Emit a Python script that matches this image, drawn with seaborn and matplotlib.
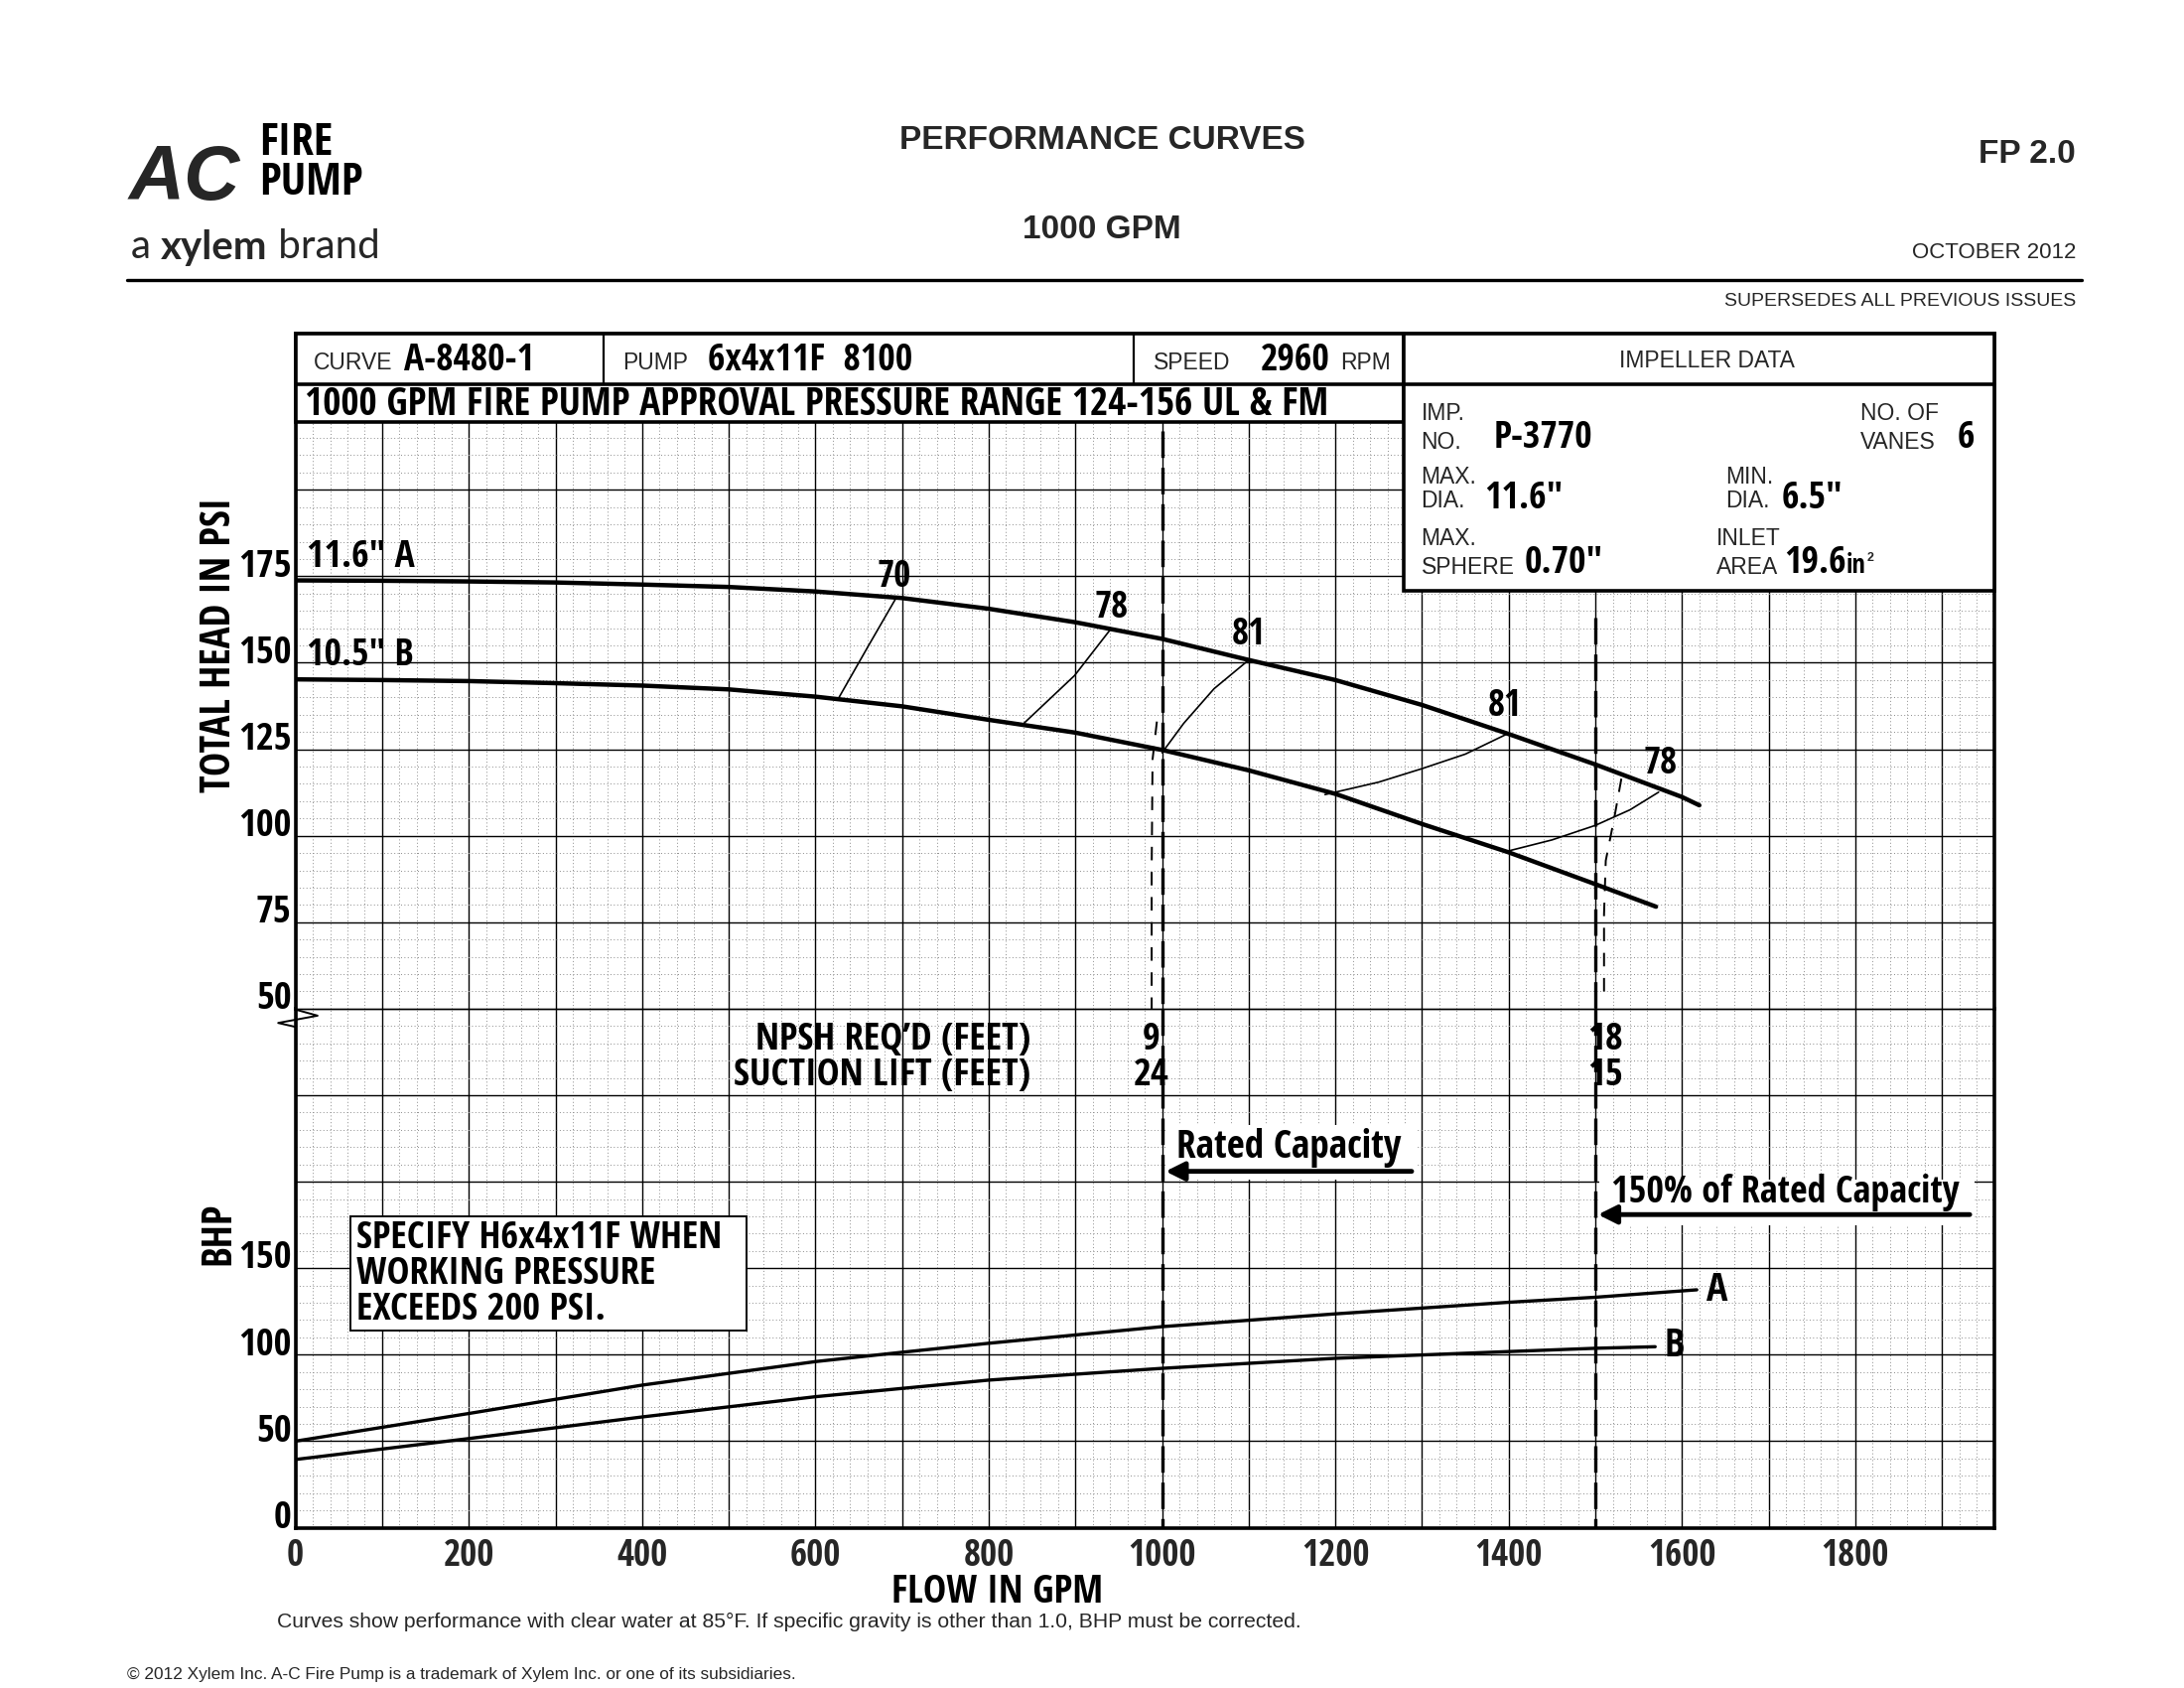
import matplotlib
matplotlib.use("Agg")
import numpy as np
import pandas as pd
import seaborn as sns
import matplotlib.pyplot as plt
from matplotlib import font_manager
from matplotlib.patches import Rectangle
from matplotlib.ticker import MultipleLocator, FuncFormatter
from matplotlib.transforms import ScaledTranslation

# head curves (psi) for the two impeller diameters
flow_head_a = [0, 100, 200, 300, 400, 500, 600, 700, 800, 900, 1000, 1100, 1200, 1300, 1400, 1500, 1600, 1620]
head_a = [173.8, 173.7, 173.5, 173.2, 172.6, 171.9, 170.6, 168.7, 165.6, 161.7, 156.9, 150.8, 145.0, 137.8, 129.4, 120.6, 111.2, 108.8]
flow_head_b = [0, 100, 200, 300, 400, 500, 600, 700, 800, 900, 1000, 1100, 1200, 1300, 1400, 1500, 1570]
head_b = [145.2, 145.0, 144.7, 144.1, 143.4, 142.3, 140.2, 137.4, 133.5, 129.8, 124.8, 118.9, 112.1, 103.4, 95.2, 86.0, 79.5]

# brake horsepower
flow_bhp_a = [0, 200, 400, 600, 700, 800, 1000, 1200, 1400, 1500, 1617]
bhp_a = [50.0, 66.0, 82.4, 96.0, 101.4, 106.6, 116.2, 123.6, 130.3, 133.2, 137.5]
flow_bhp_b = [0, 200, 400, 600, 800, 1000, 1200, 1400, 1500, 1569]
bhp_b = [39.4, 51.5, 64.0, 75.7, 85.3, 92.1, 97.9, 101.8, 103.7, 104.6]

# efficiency iso-lines (flow, head)
eff_lines = {
    "70": ([627, 660, 693], [139.9, 154.4, 168.7]),
    "78a": ([841, 899, 940], [132.6, 146.3, 159.5]),
    "81a": ([1000, 1025, 1060, 1100], [124.0, 132.5, 142.5, 150.8]),
    "81b": ([1188, 1250, 1300, 1350, 1398], [111.9, 115.5, 119.4, 123.6, 129.4]),
    "78b": ([1398, 1450, 1500, 1540, 1573], [95.5, 98.8, 103.0, 107.5, 112.6]),
}
eff_labels = ["70", "78", "81", "81", "78"]
eff_label_flow = [691, 942, 1100, 1395, 1575]
eff_label_head = [174.8, 165.8, 158.3, 137.6, 121.0]

# NPSH required curve segments
npsh1_flow = [994, 989, 988, 988]
npsh1_head = [133, 122, 90, 50]
npsh2_flow = [1530, 1522, 1512, 1510, 1510]
npsh2_head = [116.5, 105.4, 92.8, 77.3, 53]

rated_flows = [1000, 1500]
npsh_req = ["9", "18"]
suction_lift = ["24", "15"]

head_ticks = [50, 75, 100, 125, 150, 175]
bhp_ticks = [0, 50, 100, 150]
flow_ticks = [0, 200, 400, 600, 800, 1000, 1200, 1400, 1600, 1800]

sns.set_style("white")
plt.rcParams["font.family"] = ["Liberation Sans", "DejaVu Sans"]

fig = plt.figure(figsize=(22, 17), dpi=100)
renderer = fig.canvas.get_renderer()

# pick the narrowest bold face installed for the condensed lettering
names = {f.name for f in font_manager.fontManager.ttflist}
cands = [("Liberation Sans Narrow", "normal"), ("Roboto Condensed", "normal"),
         ("Open Sans Condensed", "normal"), ("DejaVu Sans Condensed", "normal"),
         ("DejaVu Sans", "condensed"), ("Roboto", "condensed"), ("Open Sans", "condensed"),
         ("Liberation Sans", "normal")]
probe = "SPECIFY H6x4x11F WHEN WORKING"


def width_of(fam, st):
    t = fig.text(0, 0, probe, fontsize=20, family=fam, fontstretch=st, fontweight="bold")
    w = t.get_window_extent(renderer=renderer).width
    t.remove()
    return w


w_ref = width_of("Liberation Sans", "normal")
best = ("Liberation Sans", "normal", w_ref)
for fam, st in cands:
    if fam in names:
        w = width_of(fam, st)
        if w < best[2]:
            best = (fam, st, w)
NARROW, STRETCH = best[0], best[1]
K = 0.855 * w_ref / best[2]


def nz(s):
    return s * K


NK = dict(family=NARROW, fontstretch=STRETCH, fontweight="bold", color="black")

L, W = 0.1353, 0.7777
ax_b = fig.add_axes([L, 0.0950, W, 0.3074])
ax_h = fig.add_axes([L, 0.4024, W, 0.3997])


def setup(ax, ymaj, ymin, ylim):
    ax.set_xlim(0, 1960)
    ax.set_ylim(*ylim)
    ax.xaxis.set_major_locator(MultipleLocator(100))
    ax.xaxis.set_minor_locator(MultipleLocator(20))
    ax.yaxis.set_major_locator(MultipleLocator(ymaj))
    ax.yaxis.set_minor_locator(MultipleLocator(ymin))
    ax.grid(which="major", color="black", lw=1.0)
    ax.grid(which="minor", color="#8c8c8c", lw=0.7, ls=(0, (1, 2.5)))
    ax.tick_params(which="both", length=0)
    ax.set_axisbelow(True)
    ax.set_yticklabels([])
    for s in ax.spines.values():
        s.set_linewidth(2.6)
        s.set_color("black")


setup(ax_h, 25, 5, (50, 245))
setup(ax_b, 50, 10, (0, 300))
ax_h.spines["bottom"].set_visible(False)
ax_b.spines["top"].set_visible(False)
ax_h.set_xticklabels([])
ax_h.axhline(50, color="black", lw=1.0, clip_on=False)

ax_b.xaxis.set_major_formatter(FuncFormatter(lambda v, p: f"{int(v)}" if int(v) in flow_ticks else ""))
ax_b.tick_params(axis="x", pad=7, labelsize=nz(24))
for t in ax_b.get_xticklabels():
    t.set_fontfamily(NARROW)
    t.set_fontstretch(STRETCH)
    t.set_fontweight("bold")

off = ScaledTranslation(-3 / 72, 7 / 72, fig.dpi_scale_trans)
for v in head_ticks:
    ax_h.text(0, v, str(v), transform=ax_h.get_yaxis_transform() + off,
              ha="right", va="center", fontsize=nz(25), **NK)
for v in bhp_ticks:
    ax_b.text(0, v, str(v), transform=ax_b.get_yaxis_transform() + off,
              ha="right", va="center", fontsize=nz(25), **NK)

# break symbol at the 50 psi line
ax_b.plot([1, 25.5, -20, 0], [299.4, 296, 291.8, 289.5], color="black", lw=1.4, clip_on=False)

# curves
sns.lineplot(x=flow_head_a, y=head_a, ax=ax_h, color="black", lw=3.2, estimator=None, sort=False)
sns.lineplot(x=flow_head_b, y=head_b, ax=ax_h, color="black", lw=3.2, estimator=None, sort=False)
for q, h in eff_lines.values():
    sns.lineplot(x=q, y=h, ax=ax_h, color="black", lw=1.2, estimator=None, sort=False)
for q, h in [(npsh1_flow, npsh1_head), (npsh2_flow, npsh2_head)]:
    ax_h.plot(q, h, color="black", lw=1.4, dashes=(7, 6))
sns.lineplot(x=flow_bhp_a, y=bhp_a, ax=ax_b, color="black", lw=2.4, estimator=None, sort=False)
sns.lineplot(x=flow_bhp_b, y=bhp_b, ax=ax_b, color="black", lw=2.4, estimator=None, sort=False)

# rated capacity lines
ax_h.plot([rated_flows[0]] * 2, [217, 50], color="black", lw=2.4, dashes=(8, 3))
ax_h.plot([rated_flows[1]] * 2, [163, 50], color="black", lw=2.4, dashes=(8, 3))
for q in rated_flows:
    ax_b.plot([q, q], [300, 0], color="black", lw=2.4, dashes=(8, 3))

for s, q, h in zip(eff_labels, eff_label_flow, eff_label_head):
    ax_h.text(q, h, s, ha="center", va="center", fontsize=nz(24), **NK)
ax_h.text(13, 180.6, '11.6" A', ha="left", va="center", fontsize=nz(24.5), **NK)
ax_h.text(13, 152.2, '10.5" B', ha="left", va="center", fontsize=nz(24.5), **NK)

# header boxes
box_kw = dict(fc="white", ec="black", lw=2.6, zorder=3, clip_on=False)
ax_h.add_patch(Rectangle((0, 219.5), 1279, 25.5, **box_kw))
ax_h.add_patch(Rectangle((1279, 170.7), 681, 74.3, **box_kw))
ax_h.plot([0, 1960], [230.5, 230.5], color="black", lw=2.6, zorder=4, clip_on=False)
for q in [355, 967]:
    ax_h.plot([q, q], [230.5, 245], color="black", lw=1.6, zorder=4, clip_on=False)

small = dict(fontsize=16.5, va="center", ha="left", zorder=5)
big = dict(fontsize=nz(24.5), va="center", ha="left", zorder=5, **NK)
ax_h.text(21, 236.8, "CURVE", **small)
ax_h.text(125, 237.4, "A-8480-1", **big)
ax_h.text(377, 236.8, "PUMP", **small)
ax_h.text(476, 237.4, "6x4x11F  8100", **big)
ax_h.text(990, 236.8, "SPEED", **small)
ax_h.text(1114, 237.4, "2960", **big)
ax_h.text(1206, 236.8, "RPM", **small)
ax_h.text(1629, 237.2, "IMPELLER DATA", fontsize=16.5, va="center", ha="center", zorder=5)
ax_h.text(11, 224.6, "1000 GPM FIRE PUMP APPROVAL PRESSURE RANGE 124-156 UL & FM",
          fontsize=nz(25.5), va="center", ha="left", zorder=5, **NK)

imp = [
    (1299, 222.0, "IMP."), (1299, 213.8, "NO."), (1806, 222.0, "NO. OF"), (1806, 213.8, "VANES"),
    (1299, 203.7, "MAX."), (1299, 196.7, "DIA."), (1650, 203.7, "MIN."), (1650, 196.7, "DIA."),
    (1299, 185.8, "MAX."), (1299, 177.6, "SPHERE"), (1640, 185.8, "INLET"), (1640, 177.6, "AREA"),
]
for q, h, s in imp:
    ax_h.text(q, h, s, **small)
ax_h.text(1383, 215.0, "P-3770", **big)
ax_h.text(1918, 215.0, "6", **big)
ax_h.text(1372, 197.6, '11.6"', **big)
ax_h.text(1715, 197.6, '6.5"', **big)
ax_h.text(1418, 178.9, '0.70"', **big)
t_area = ax_h.text(1718, 178.9, "19.6", **big)
t_in = ax_h.annotate("in", xy=(1, 0.08), xycoords=t_area, ha="left", va="bottom", fontsize=nz(17),
                     zorder=5, **NK)
ax_h.annotate("2", xy=(1, 1.0), xycoords=t_in, xytext=(1, 0), textcoords="offset points",
              ha="left", va="top", fontsize=9, fontweight="bold", zorder=5)

# NPSH / suction lift table
ax_b.text(848, 282, "NPSH REQ\u2019D (FEET)", ha="right", va="center", fontsize=nz(25), **NK)
ax_b.text(848, 261.5, "SUCTION LIFT (FEET)", ha="right", va="center", fontsize=nz(25), **NK)
for q, a, b in zip([988, 1512], npsh_req, suction_lift):
    ax_b.text(q, 282, a, ha="center", va="center", fontsize=nz(25), **NK)
    ax_b.text(q, 261.5, b, ha="center", va="center", fontsize=nz(25), **NK)

# rated capacity callouts
ax_b.add_patch(Rectangle((1005, 201), 288, 32, fc="white", ec="none", zorder=3))
ax_b.text(1016, 219.5, "Rated Capacity", ha="left", va="center", fontsize=nz(25.5), zorder=4, **NK)
ax_b.annotate("", xy=(1004, 206), xytext=(1288, 206), zorder=4,
              arrowprops=dict(arrowstyle="-|>", lw=3.5, color="black", mutation_scale=28,
                              shrinkA=0, shrinkB=0))
ax_b.add_patch(Rectangle((1505, 175), 433, 26, fc="white", ec="none", zorder=3))
ax_b.text(1518, 193.5, "150% of Rated Capacity", ha="left", va="center", fontsize=nz(24.8), zorder=4, **NK)
ax_b.annotate("", xy=(1503, 181), xytext=(1932, 181), zorder=4,
              arrowprops=dict(arrowstyle="-|>", lw=3.5, color="black", mutation_scale=28,
                              shrinkA=0, shrinkB=0))

ax_b.add_patch(Rectangle((63, 114), 457, 66, fc="white", ec="black", lw=1.4, zorder=3))
for h, s in zip([167.5, 146.8, 126], ["SPECIFY H6x4x11F WHEN", "WORKING PRESSURE", "EXCEEDS 200 PSI."]):
    ax_b.text(70, h, s, ha="left", va="center", fontsize=nz(25), zorder=4, **NK)

ax_b.text(1628, 137, "A", ha="left", va="center", fontsize=nz(26), **NK)
ax_b.text(1580, 104.5, "B", ha="left", va="center", fontsize=nz(26), **NK)
for a in (ax_b, ax_h):
    a.set_xlabel("")
    a.set_ylabel("")


def ftext(x, y, s, **kw):
    return fig.text(x / 2200, 1 - y / 1700, s, **kw)


# axis titles
ftext(221, 649, "TOTAL HEAD IN PSI", rotation=90, ha="center", va="center", fontsize=nz(26.5), **NK)
ftext(221, 1242, "BHP", rotation=90, ha="center", va="center", fontsize=nz(26.5), **NK)
ftext(1005, 1604, "FLOW IN GPM", ha="center", va="center", fontsize=nz(25.5), **NK)

# page header
ftext(1110, 142, "PERFORMANCE CURVES", ha="center", va="center", fontsize=24, fontweight="bold")
ftext(1110, 231, "1000 GPM", ha="center", va="center", fontsize=24, fontweight="bold")
ftext(2091, 156, "FP 2.0", ha="right", va="center", fontsize=24, fontweight="bold")
ftext(2091, 255, "OCTOBER 2012", ha="right", va="center", fontsize=16)
ftext(2091, 303, "SUPERSEDES ALL PREVIOUS ISSUES", ha="right", va="center", fontsize=14)
fig.add_artist(plt.Line2D([128 / 2200, 2097 / 2200], [1 - 282 / 1700] * 2, color="black", lw=2.4))

# logo
ftext(130, 201, "AC", ha="left", va="baseline", fontsize=56, fontweight="heavy", style="italic")
ftext(261, 144, "FIRE", ha="left", va="center", fontsize=nz(29.5), **NK)
ftext(261, 185, "PUMP", ha="left", va="center", fontsize=nz(29.5), **NK)
t1 = ftext(132, 249, "a ", ha="left", va="center", fontsize=29, family="Lato")
bb = t1.get_window_extent(renderer=renderer)
t2 = ftext(bb.x1, 249, "xylem", ha="left", va="center", fontsize=29, fontweight="bold", family="Lato")
bb2 = t2.get_window_extent(renderer=renderer)
ftext(bb2.x1, 249, " brand", ha="left", va="center", fontsize=29, family="Lato")

# footnotes
ftext(279, 1633, "Curves show performance with clear water at 85\u00b0F. If specific gravity is other than 1.0, BHP must be corrected.",
      ha="left", va="center", fontsize=15.2)
ftext(128, 1686, "\u00a9 2012 Xylem Inc. A-C Fire Pump is a trademark of Xylem Inc. or one of its subsidiaries.",
      ha="left", va="center", fontsize=12.4)

fig.savefig("out.png", dpi=100, facecolor="white")
